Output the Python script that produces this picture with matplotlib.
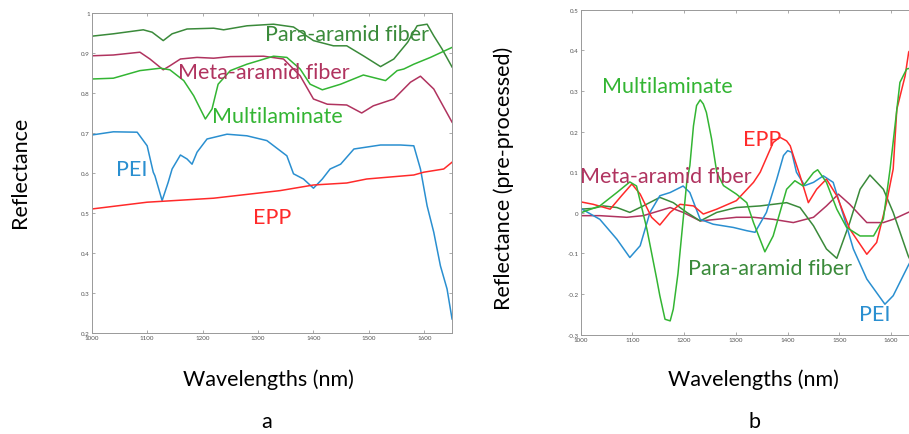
import matplotlib.pyplot as plt

plt.rcParams["font.family"] = ["Lato", "DejaVu Sans"]
plt.rcParams["axes.unicode_minus"] = False

# ---- panel a: raw reflectance ----
para_wl_a = [1000, 1039, 1093, 1109, 1129, 1145, 1172, 1220, 1238, 1280, 1328, 1364, 1400, 1436,
             1460, 1490, 1521, 1545, 1570, 1587, 1605, 1617, 1632, 1650]
para_a = [0.942, 0.948, 0.958, 0.952, 0.931, 0.948, 0.960, 0.962, 0.958, 0.968, 0.972, 0.965, 0.931,
          0.918, 0.918, 0.893, 0.866, 0.885, 0.927, 0.968, 0.972, 0.943, 0.910, 0.865]

meta_wl_a = [1000, 1039, 1087, 1105, 1129, 1141, 1160, 1190, 1220, 1250, 1310, 1346, 1376, 1400,
             1425, 1460, 1487, 1508, 1545, 1575, 1593, 1617, 1650]
meta_a = [0.893, 0.895, 0.902, 0.885, 0.858, 0.868, 0.885, 0.889, 0.887, 0.891, 0.892, 0.885, 0.843,
          0.785, 0.772, 0.770, 0.750, 0.768, 0.785, 0.827, 0.842, 0.810, 0.727]

multi_wl_a = [1000, 1039, 1087, 1124, 1141, 1166, 1184, 1205, 1217, 1228, 1250, 1280, 1328, 1352,
              1376, 1394, 1416, 1449, 1490, 1530, 1551, 1563, 1581, 1611, 1650]
multi_a = [0.835, 0.837, 0.856, 0.862, 0.858, 0.831, 0.793, 0.735, 0.760, 0.822, 0.856, 0.872, 0.892,
           0.889, 0.860, 0.822, 0.808, 0.822, 0.845, 0.831, 0.856, 0.860, 0.872, 0.889, 0.914]

pei_wl_a = [1000, 1039, 1082, 1100, 1111, 1114, 1127, 1138, 1145, 1160, 1172, 1181, 1190, 1208,
            1244, 1280, 1316, 1352, 1364, 1382, 1400, 1416, 1430, 1449, 1473, 1521, 1557, 1581,
            1593, 1605, 1617, 1629, 1641, 1650]
pei_a = [0.695, 0.703, 0.702, 0.668, 0.602, 0.593, 0.531, 0.577, 0.610, 0.645, 0.635, 0.622, 0.652,
         0.685, 0.697, 0.693, 0.681, 0.643, 0.598, 0.585, 0.562, 0.585, 0.610, 0.622, 0.660, 0.670,
         0.670, 0.668, 0.610, 0.518, 0.452, 0.368, 0.310, 0.235]

epp_wl_a = [1000, 1100, 1220, 1340, 1400, 1460, 1496, 1581, 1599, 1635, 1650]
epp_a = [0.510, 0.527, 0.537, 0.556, 0.570, 0.575, 0.585, 0.595, 0.602, 0.610, 0.627]

# ---- panel b: pre-processed ----
multi_wl_b = [1000, 1037, 1070, 1095, 1108, 1128, 1147, 1153, 1163, 1173, 1179, 1188, 1195, 1205,
              1211, 1218, 1224, 1231, 1237, 1243, 1253, 1263, 1276, 1301, 1321, 1334, 1356, 1372,
              1398, 1414, 1430, 1450, 1458, 1475, 1495, 1514, 1540, 1566, 1585, 1598, 1617, 1630,
              1650]
multi_b = [0.000, 0.017, 0.050, 0.076, 0.066, -0.040, -0.163, -0.204, -0.262, -0.266, -0.237,
           -0.150, -0.057, 0.075, 0.116, 0.214, 0.264, 0.278, 0.268, 0.247, 0.182, 0.100, 0.067,
           0.046, 0.025, -0.024, -0.096, -0.057, 0.058, 0.079, 0.066, 0.099, 0.106, 0.075, 0.009,
           -0.036, -0.057, -0.057, -0.015, 0.108, 0.321, 0.354, 0.360]

epp_wl_b = [1000, 1024, 1057, 1079, 1099, 1115, 1137, 1153, 1173, 1192, 1218, 1237, 1263, 1301,
            1334, 1347, 1372, 1385, 1398, 1405, 1411, 1424, 1440, 1456, 1475, 1495, 1520, 1553,
            1572, 1591, 1604, 1611, 1627, 1634, 1650]
epp_b = [0.027, 0.021, 0.009, 0.042, 0.071, 0.046, -0.011, -0.030, 0.001, 0.021, 0.017, -0.003,
         0.009, 0.030, 0.075, 0.100, 0.173, 0.186, 0.177, 0.165, 0.141, 0.091, 0.025, 0.058, 0.083,
         0.042, -0.040, -0.102, -0.073, 0.025, 0.108, 0.255, 0.337, 0.396, 0.420]

pei_wl_b = [1000, 1037, 1070, 1095, 1115, 1134, 1153, 1173, 1198, 1211, 1231, 1256, 1295, 1321,
            1337, 1359, 1379, 1392, 1400, 1408, 1417, 1433, 1450, 1469, 1488, 1508, 1527, 1553,
            1588, 1604, 1633, 1650]
pei_b = [0.011, -0.016, -0.065, -0.110, -0.081, 0.001, 0.042, 0.050, 0.066, 0.050, -0.016, -0.028,
         -0.036, -0.044, -0.048, 0.001, 0.083, 0.141, 0.153, 0.149, 0.100, 0.067, 0.075, 0.091,
         0.075, -0.007, -0.089, -0.163, -0.225, -0.204, -0.130, -0.090]

para_wl_b = [1000, 1024, 1044, 1070, 1095, 1121, 1153, 1179, 1205, 1231, 1263, 1301, 1347, 1398,
             1424, 1450, 1475, 1495, 1520, 1540, 1559, 1585, 1604, 1633, 1650]
para_b = [0.009, 0.011, 0.017, 0.013, 0.001, 0.017, 0.038, 0.025, 0.001, -0.020, 0.001, 0.013,
          0.017, 0.025, 0.013, -0.032, -0.089, -0.112, -0.024, 0.058, 0.093, 0.058, 0.001, -0.106,
          -0.150]

meta_wl_b = [1000, 1037, 1089, 1121, 1173, 1198, 1231, 1263, 1301, 1334, 1372, 1411, 1450, 1475,
             1498, 1520, 1553, 1585, 1604, 1633, 1650]
meta_b = [-0.007, -0.007, -0.011, -0.007, 0.013, 0.001, -0.020, -0.016, -0.011, -0.011, -0.016,
          -0.024, -0.011, 0.017, 0.046, 0.021, -0.024, -0.024, -0.016, 0.001, 0.010]

C_PARA = "#3a8a3a"
C_META = "#b0335f"
C_MULTI = "#33b533"
C_PEI = "#2a8fd0"
C_EPP = "#ff2a2a"
LW = 1.1
LABEL_SIZE = 15.5


def style_axes(ax, xlim, ylim, yticks):
    ax.set_xlim(*xlim)
    ax.set_ylim(*ylim)
    ax.set_xticks(range(1000, 1700, 100))
    ax.set_yticks(yticks)
    ax.set_yticklabels([f"{t:g}" for t in yticks])
    ax.tick_params(direction="in", length=2.5, width=0.5, labelsize=4.5,
                   colors="#888888", labelcolor="#555555", top=True, right=True, pad=1.5)
    for sp in ax.spines.values():
        sp.set_color("#999999")
        sp.set_linewidth(0.7)


fig = plt.figure(figsize=(9.09, 4.35), dpi=100)

ax1 = fig.add_axes([0.1009, 0.2322, 0.3964, 0.7356])
ax1.plot(para_wl_a, para_a, color=C_PARA, lw=LW)
ax1.plot(meta_wl_a, meta_a, color=C_META, lw=LW)
ax1.plot(multi_wl_a, multi_a, color=C_MULTI, lw=LW)
ax1.plot(pei_wl_a, pei_a, color=C_PEI, lw=LW)
ax1.plot(epp_wl_a, epp_a, color=C_EPP, lw=LW)
style_axes(ax1, (1000, 1650), (0.2, 1.0), [0.2, 0.3, 0.4, 0.5, 0.6, 0.7, 0.8, 0.9, 1.0])

ax1.text(1313, 0.948, "Para-aramid fiber", color=C_PARA, fontsize=LABEL_SIZE, va="center")
ax1.text(1156, 0.853, "Meta-aramid fiber", color=C_META, fontsize=LABEL_SIZE, va="center")
ax1.text(1217, 0.742, "Multilaminate", color=C_MULTI, fontsize=LABEL_SIZE, va="center")
ax1.text(1044, 0.610, "PEI", color=C_PEI, fontsize=LABEL_SIZE, va="center")
ax1.text(1291, 0.490, "EPP", color=C_EPP, fontsize=LABEL_SIZE, va="center")

ax2 = fig.add_axes([0.6388, 0.2283, 0.370, 0.7471])
ax2.plot(meta_wl_b, meta_b, color=C_META, lw=LW)
ax2.plot(para_wl_b, para_b, color=C_PARA, lw=LW)
ax2.plot(pei_wl_b, pei_b, color=C_PEI, lw=LW)
ax2.plot(epp_wl_b, epp_b, color=C_EPP, lw=LW)
ax2.plot(multi_wl_b, multi_b, color=C_MULTI, lw=LW)
style_axes(ax2, (1000, 1650), (-0.3, 0.5), [-0.3, -0.2, -0.1, 0, 0.1, 0.2, 0.3, 0.4, 0.5])

ax2.text(1041, 0.312, "Multilaminate", color=C_MULTI, fontsize=LABEL_SIZE, va="center")
ax2.text(1314, 0.181, "EPP", color=C_EPP, fontsize=LABEL_SIZE, va="center")
ax2.text(999, 0.090, "Meta-aramid fiber", color=C_META, fontsize=LABEL_SIZE, va="center")
ax2.text(1208, -0.136, "Para-aramid fiber", color=C_PARA, fontsize=LABEL_SIZE, va="center")
ax2.text(1537, -0.250, "PEI", color=C_PEI, fontsize=LABEL_SIZE, va="center")

W, H = 909, 435
fig.text(20 / W, 1 - 172 / H, "Reflectance", rotation=90, ha="center", va="center",
         fontsize=LABEL_SIZE)
fig.text(504 / W, 1 - 178 / H, "Reflectance (pre-processed)", rotation=90, ha="center",
         va="center", fontsize=LABEL_SIZE)
fig.text(268 / W, 1 - 380 / H, "Wavelengths (nm)", ha="center", va="center", fontsize=LABEL_SIZE)
fig.text(753 / W, 1 - 380 / H, "Wavelengths (nm)", ha="center", va="center", fontsize=LABEL_SIZE)
fig.text(267 / W, 1 - 422 / H, "a", ha="center", va="center", fontsize=LABEL_SIZE)
fig.text(755 / W, 1 - 422 / H, "b", ha="center", va="center", fontsize=LABEL_SIZE)

fig.savefig("out.png", dpi=100)
